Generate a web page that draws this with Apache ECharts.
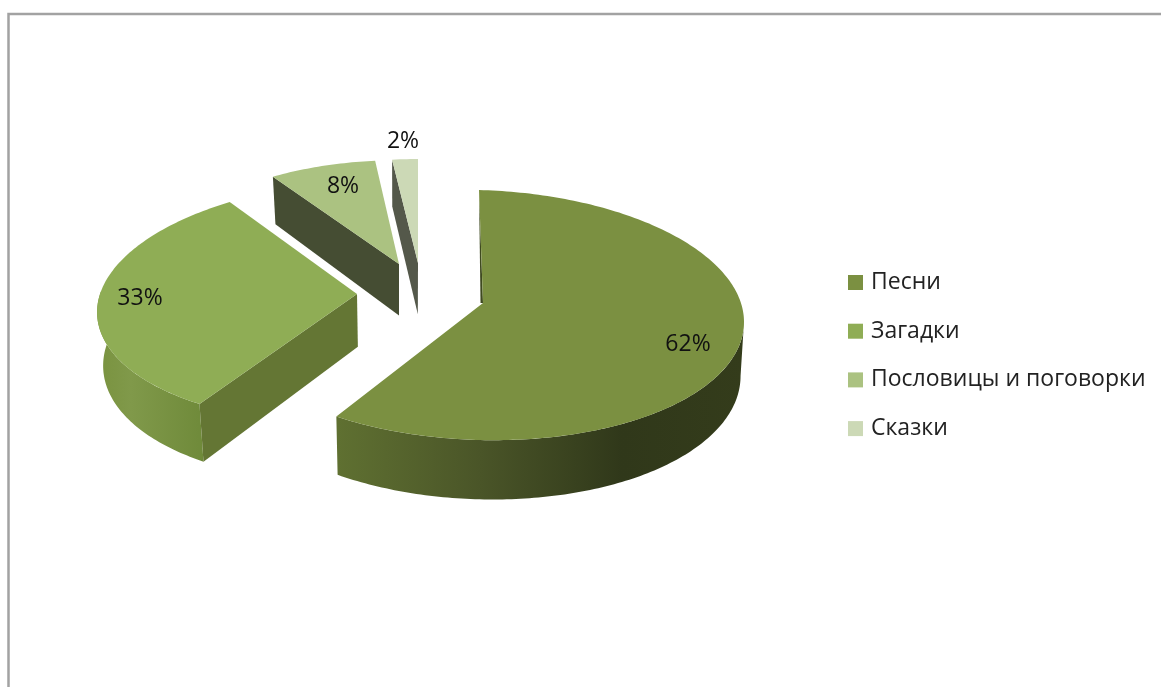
<!DOCTYPE html>
<html>
<head>
<meta charset="utf-8">
<title>Pie</title>
<script src="https://cdn.jsdelivr.net/npm/echarts@6/dist/echarts.min.js"></script>
<style>
    html, body { margin: 0; padding: 0; background: #fff; }
    #chart { width: 1161px; height: 687px; }
</style>
</head>
<body>
<div id="chart"></div>
<script>
const categories = ['Песни', 'Загадки', 'Пословицы и поговорки', 'Сказки']
const percents = [62, 33, 8, 2]

const topColors = ['#7b9041', '#8fad55', '#abc281', '#ccd9b6']
const edgeColors = ['#3f4a20', '#647634', '#454d33', '#54584a']

// где лежит каждый сектор на картинке: вершина, эллипс, подпись
const sliceGeom = [
    { ax: 483, ay: 303, ox: -4, oy: 12, rx: 265, ry: 125, k: 0, m: 7, label: [688, 344] },
    { ax: 357, ay: 294, ox: 1, oy: 8, rx: 260, ry: 121, k: 22, m: 0, label: [140, 298] },
    { ax: 399, ay: 264, ox: 0, oy: -8, rx: 229, ry: 96, k: 3.5, m: 0, label: [343, 186] },
    { ax: 418, ay: 263, ox: 0, oy: -4, rx: 217, ry: 100, k: 0, m: 0, label: [403, 141] }
]

const total = percents.reduce((a, b) => a + b, 0)
const startAngles = percents.map((v, i) => percents.slice(0, i).reduce((a, b) => a + b, 0) / total * 360)

const rad = deg => deg * Math.PI / 180

function rimPoint (g, deg) {
    const s = Math.sin(rad(deg))
    const c = Math.cos(rad(deg))
    return [g.ax + g.ox + g.rx * s + g.k * c, g.ay + g.oy - g.ry * c + g.m * s]
}

// точка на нижней грани, с небольшой перспективой
function lower (p) {
    const shrink = p[0] > 400 ? 0.99 : 0.98
    return [400 + (p[0] - 400) * shrink, p[1] + 53 + (p[1] - 300) * 0.045]
}

function arc (g, from, to) {
    const pts = []
    const n = Math.max(2, Math.ceil(Math.abs(to - from)))
    for (let i = 0; i <= n; i++) {
        pts.push(rimPoint(g, from + (to - from) * i / n))
    }
    return pts
}

const wallFills = [
    new echarts.graphic.LinearGradient(338, 0, 744, 0, [
        { offset: 0, color: '#5f7031' },
        { offset: 0.35, color: '#4a5528' },
        { offset: 0.7, color: '#30381a' },
        { offset: 1, color: '#343c1b' }
    ], true),
    new echarts.graphic.LinearGradient(100, 0, 203, 0, [
        { offset: 0, color: '#7a9340' },
        { offset: 0.3, color: '#80994a' },
        { offset: 1, color: '#6f8a3a' }
    ], true)
]

function renderSlice (params, api) {
    const i = params.seriesIndex
    const g = sliceGeom[i]
    const from = startAngles[i]
    const to = from + api.value(0) / total * 360
    const apex = [g.ax, g.ay]
    const first = rimPoint(g, from)
    const rim = arc(g, from, to)
    const children = []

    // внешняя стенка от самой широкой точки эллипса
    if (i === 0) {
        const top = arc(g, 90, to)
        children.push({
            type: 'polygon',
            shape: { points: top.concat(top.map(lower).reverse()) },
            style: { fill: wallFills[0] }
        })
    }
    if (i === 1) {
        const top = arc(g, from, 275)
        children.push({
            type: 'polygon',
            shape: { points: top.concat(top.map(lower).reverse()) },
            style: { fill: wallFills[1] }
        })
    }

    // стенка по первому радиусу
    const edge = i === 0
        ? [first, apex, [apex[0] - 2.5, apex[1]]]
        : [first, apex, lower(apex), lower(first)]
    children.push({
        type: 'polygon',
        shape: { points: edge },
        style: { fill: edgeColors[i] }
    })

    // верхняя грань
    children.push({
        type: 'polygon',
        shape: { points: [apex].concat(rim) },
        style: { fill: topColors[i] }
    })

    children.push({
        type: 'text',
        style: {
            text: api.value(0) + '%',
            x: g.label[0],
            y: g.label[1],
            fill: '#111',
            align: 'center',
            verticalAlign: 'middle',
            fontFamily: 'Open Sans',
            fontSize: 23
        }
    })

    return { type: 'group', children }
}

const chart = echarts.init(document.getElementById('chart'))
chart.setOption({
    animation: false,
    backgroundColor: '#fff',
    legend: {
        orient: 'vertical',
        left: 848,
        top: 271,
        padding: 0,
        icon: 'rect',
        itemWidth: 15,
        itemHeight: 15,
        itemGap: 25.7,
        data: categories,
        textStyle: {
            color: '#222',
            fontFamily: 'Open Sans',
            fontSize: 23,
            lineHeight: 20,
            padding: [0, 0, 0, 3]
        }
    },
    graphic: [{
        type: 'polyline',
        silent: true,
        shape: { points: [[8.5, 687], [8.5, 14], [1161, 14]] },
        style: { stroke: '#a2a2a2', lineWidth: 2.5, fill: 'none' }
    }],
    series: categories.map((name, i) => ({
        type: 'custom',
        name,
        coordinateSystem: 'none',
        renderItem: renderSlice,
        itemStyle: { color: topColors[i] },
        z: 5 - i,
        data: [[percents[i]]]
    }))
})
</script>
</body>
</html>
